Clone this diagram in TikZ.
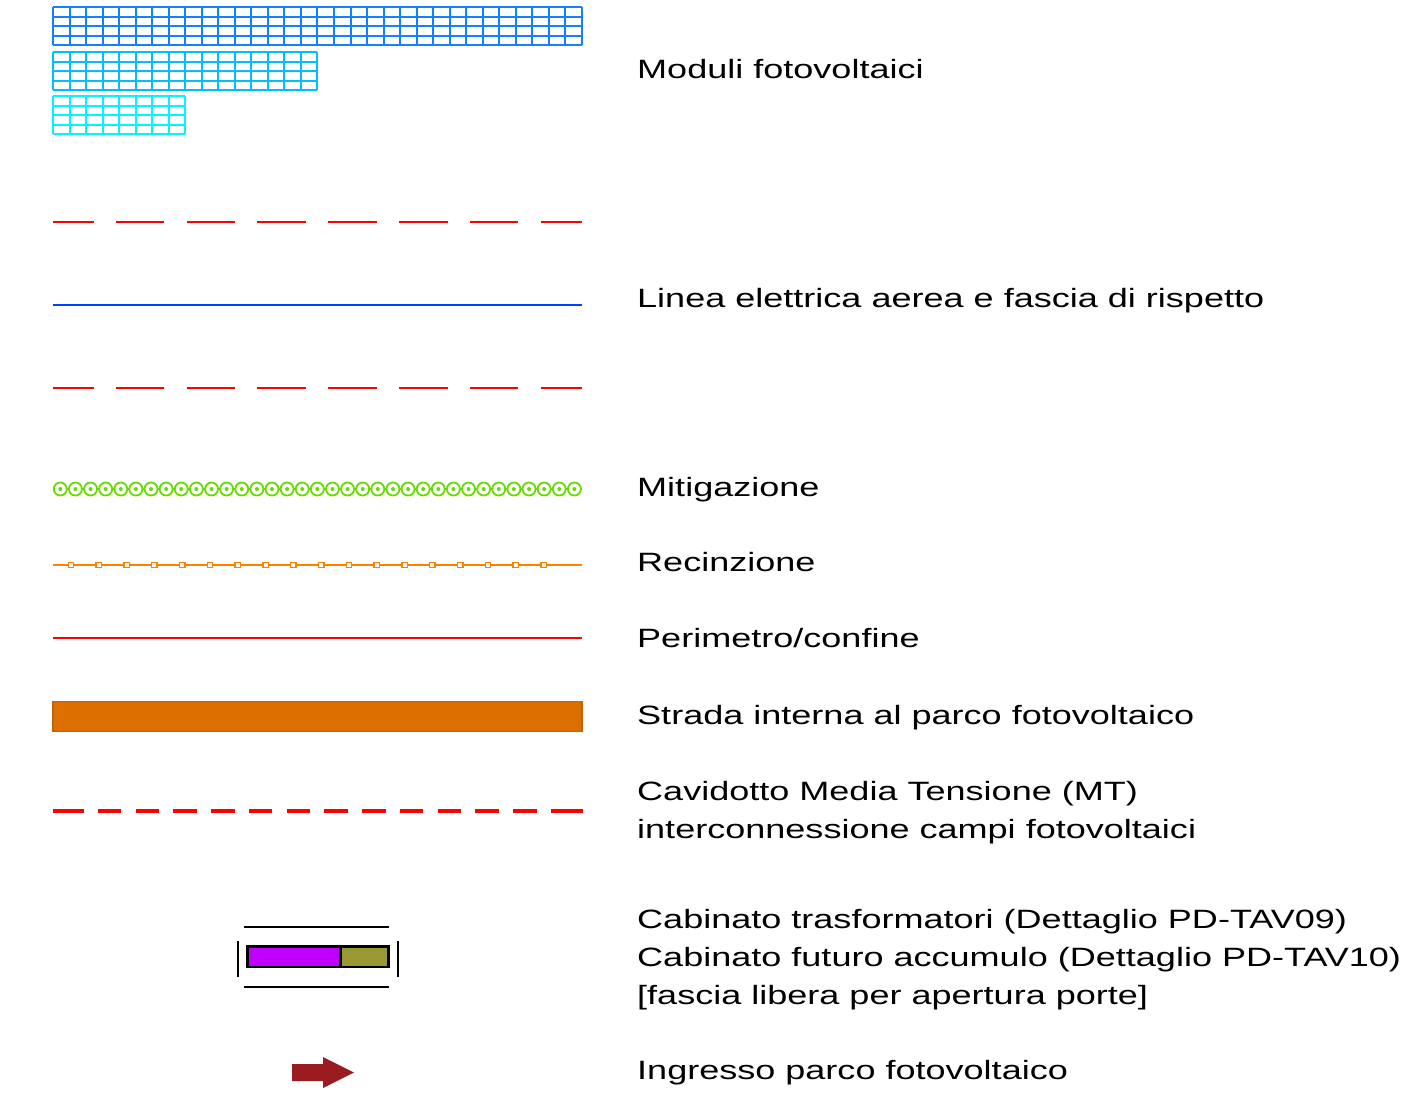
\documentclass[tikz,border=0pt]{standalone}
\usepackage{fontspec}
\setmainfont{Liberation Sans}[FakeStretch=1.36]
\definecolor{pvone}{RGB}{20,128,255}
\definecolor{pvtwo}{RGB}{0,190,255}
\definecolor{pvthree}{RGB}{0,245,255}
\definecolor{hvline}{RGB}{0,64,255}
\definecolor{hedge}{RGB}{102,220,0}
\definecolor{fence}{RGB}{255,128,0}
\definecolor{road}{RGB}{221,110,0}
\definecolor{roadedge}{RGB}{190,100,10}
\definecolor{trafo}{RGB}{191,0,255}
\definecolor{storage}{RGB}{153,153,51}
\definecolor{gate}{RGB}{155,28,32}
\tikzset{
  legendtext/.style={anchor=base west,inner sep=0pt,text=black,
    font=\fontsize{26.5bp}{38bp}\selectfont},
  pvgrid/.style={line width=2bp},
  bufferline/.style={red,line width=1.8bp,dash pattern=on 48.5bp off 22.3bp,dash phase=8bp},
  mtcable/.style={red,line width=4.5bp},
  cabinbox/.style={draw=black,line width=2.5bp},
  cabinrule/.style={black,line width=1.3bp},
}
% one block of modules: columns, top edge, colour
\newcommand\pvblock[3]{%
  \foreach \col in {0,...,#1}
    \draw[pvgrid,#3] (53+\col*16.53,#2) -- (53+\col*16.53,#2+38);
  \foreach \row in {0,...,4}
    \draw[pvgrid,#3] (53,#2+\row*9.5) -- (53+#1*16.53,#2+\row*9.5);
}
\begin{document}
\begin{tikzpicture}[x=1bp,y=-1bp,line join=miter]
\useasboundingbox (0,0) rectangle (1428,1105);
%% symbols
\pvblock{32}{7}{pvone}
\pvblock{16}{52}{pvtwo}
\pvblock{8}{96}{pvthree}
\draw[bufferline] (53,222) -- (582,222);
\draw[hvline,line width=2.2bp] (53,305) -- (582,305);
\draw[bufferline] (53,388) -- (582,388);
\draw[hedge,line width=1.2bp] (53,489) -- (582,489);
\foreach \k in {0,...,34} {
  \draw[hedge,line width=1.8bp,fill=white] (60.3+\k*15.12,489) circle (6.5);
  \fill[hedge] (60.3+\k*15.12,489) circle (2);
}
\draw[fence,line width=1.6bp] (53,565) -- (582,565);
\foreach \k in {0,...,17}
  \draw[fence,line width=1.5bp,fill=white] (68.3+\k*27.8,562.3) rectangle ++(5.4,5.4);
\draw[red,line width=1.8bp] (53,638) -- (582,638);
\draw[roadedge,fill=road,line width=1.5bp] (53,701.5) rectangle (582,731.5);
\draw[mtcable] (53,811) -- (83.8,811);
\draw[mtcable,dash pattern=on 23.5bp off 14.25bp] (97.9,811) -- (537,811);
\draw[mtcable] (551,811) -- (582.5,811);
\draw[cabinrule] (244,927) -- (389,927);
\draw[cabinrule] (244,987) -- (389,987);
\draw[cabinrule] (238,941) -- (238,977);
\draw[cabinrule] (398,941) -- (398,977);
\draw[cabinbox,fill=trafo] (247.5,946.5) rectangle (340,967);
\draw[cabinbox,fill=storage] (341,946.5) rectangle (388.5,967);
\fill[gate] (292,1064) -- (323,1064) -- (323,1057) -- (354,1072.5)
  -- (323,1088) -- (323,1081) -- (292,1081) -- cycle;
%% labels
\node (lab_pv) at (637,78) [legendtext] {Moduli fotovoltaici};
\node (lab_hv) at (637,307) [legendtext] {Linea elettrica aerea e fascia di rispetto};
\node (lab_hedge) at (637,496) [legendtext] {Mitigazione};
\node (lab_fence) at (637,571) [legendtext] {Recinzione};
\node (lab_border) at (637,647) [legendtext] {Perimetro/confine};
\node (lab_road) at (637,724) [legendtext] {Strada interna al parco fotovoltaico};
\node (lab_mt1) at (637,800) [legendtext] {Cavidotto Media Tensione (MT)};
\node (lab_mt2) at (637,838) [legendtext] {interconnessione campi fotovoltaici};
\node (lab_cab1) at (637,928) [legendtext] {Cabinato trasformatori (Dettaglio PD-TAV09)};
\node (lab_cab2) at (637,966.5) [legendtext] {Cabinato futuro accumulo (Dettaglio PD-TAV10)};
\node (lab_cab3) at (637,1004) [legendtext] {[fascia libera per apertura porte]};
\node (lab_gate) at (637,1079) [legendtext] {Ingresso parco fotovoltaico};
%
\end{tikzpicture}
\end{document}
